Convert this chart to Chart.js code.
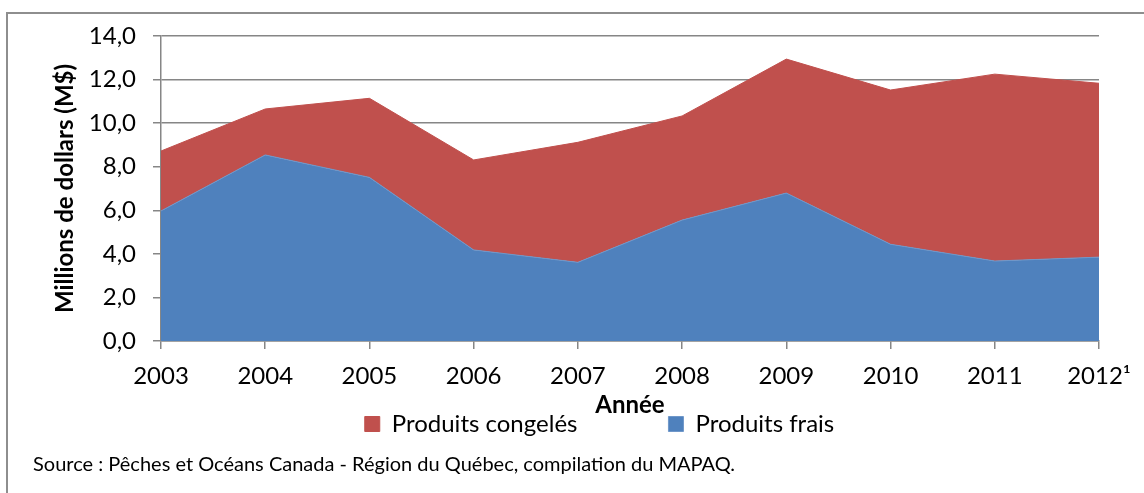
<!DOCTYPE html>
<html>
<head>
<meta charset="utf-8">
<script src="https://cdn.jsdelivr.net/npm/chart.js@4.4.1/dist/chart.umd.min.js"></script>
<style>
    body { margin: 0; background: #fff; }
    #cadre { position: absolute; left: 6px; top: 12px; width: 1200px; height: 600px;
             border-left: 2px solid #8e8e8e; border-top: 2px solid #8e8e8e; }
    #wrap { position: absolute; left: 0; top: 0; width: 1144px; height: 493px; }
    #source { position: absolute; left: 33px; top: 451px; font: 20px Lato, sans-serif; color: #000; }
</style>
</head>
<body>
<div id="cadre"></div>
<div id="wrap"><canvas id="peches-chart"></canvas></div>
<div id="source">Source : Pêches et Océans Canada - Région du Québec, compilation du MAPAQ.</div>
<script>
// Valeurs (millions de dollars)
var annees = ['2003', '2004', '2005', '2006', '2007', '2008', '2009', '2010', '2011', '2012¹'];
var produitsFrais = [5.97, 8.54, 7.51, 4.18, 3.61, 5.55, 6.79, 4.44, 3.67, 3.85];
var produitsCongeles = [2.75, 2.11, 3.63, 4.13, 5.51, 4.78, 6.15, 7.08, 8.58, 7.98];

var gris = '#868686';
var police = 'Lato, sans-serif';

// Déplacer la légende (écart entre les éléments)
var decalageLegende = {
    id: 'decalageLegende',
    afterLayout: function (chart) {
        var lg = chart.legend;
        lg.top -= lg.options.labels.padding - 1;
        lg.left += 47;
        lg.right += 47;
    }
};

var ctx = document.getElementById('peches-chart').getContext('2d');
new Chart(ctx, {
    type: 'line',
    data: {
        labels: annees,
        datasets: [{
            label: 'Produits frais',
            data: produitsFrais,
            backgroundColor: '#4F81BD',
            borderColor: '#6f97c9',
            borderWidth: 1,
            fill: 'origin',
            pointRadius: 0,
            tension: 0
        }, {
            label: 'Produits congelés',
            data: produitsCongeles,
            backgroundColor: '#C0504D',
            borderColor: '#C0504D',
            borderWidth: 1,
            fill: '-1',
            pointRadius: 0,
            tension: 0
        }]
    },
    options: {
        responsive: true,
        maintainAspectRatio: false,
        animation: false,
        layout: {
            padding: { left: 6, top: 36, right: 45, bottom: 0 }
        },
        scales: {
            x: {
                offset: false,
                grid: { drawOnChartArea: false, color: gris, lineWidth: 1.5, tickLength: 8 },
                border: { color: gris, width: 1.5 },
                ticks: { color: '#000', padding: 13, maxRotation: 0, autoSkip: false, font: { family: police, size: 24 } },
                title: {
                    display: true,
                    text: 'Année',
                    color: '#000',
                    padding: 0,
                    font: { family: police, size: 24, weight: 'bold', lineHeight: 0.5 }
                },
                afterFit: function (scale) {
                    scale.height = 70;
                    scale.paddingLeft = 0;
                    scale.paddingRight = 0;
                }
            },
            y: {
                stacked: true,
                min: 0,
                max: 14,
                grid: { color: gris, lineWidth: 1.5, tickLength: 8 },
                border: { color: gris, width: 1.5 },
                ticks: {
                    stepSize: 2,
                    color: '#000',
                    padding: 17,
                    font: { family: police, size: 24 },
                    callback: function (v) {
                        return v.toFixed(1).replace('.', ',');
                    }
                },
                title: {
                    display: true,
                    text: 'Millions de dollars (M$)',
                    color: '#000',
                    padding: { top: 45, bottom: 0 },
                    font: { family: police, size: 24, weight: 'bold', lineHeight: 1.2 }
                },
                afterFit: function (scale) {
                    scale.width = 155;
                }
            }
        },
        plugins: {
            legend: {
                position: 'bottom',
                reverse: true,
                maxHeight: 82,
                labels: {
                    color: '#000',
                    boxWidth: 15,
                    boxHeight: 15,
                    padding: 91,
                    font: { family: police, size: 24 }
                }
            },
            tooltip: { enabled: false }
        }
    },
    plugins: [decalageLegende]
});
</script>
</body>
</html>
